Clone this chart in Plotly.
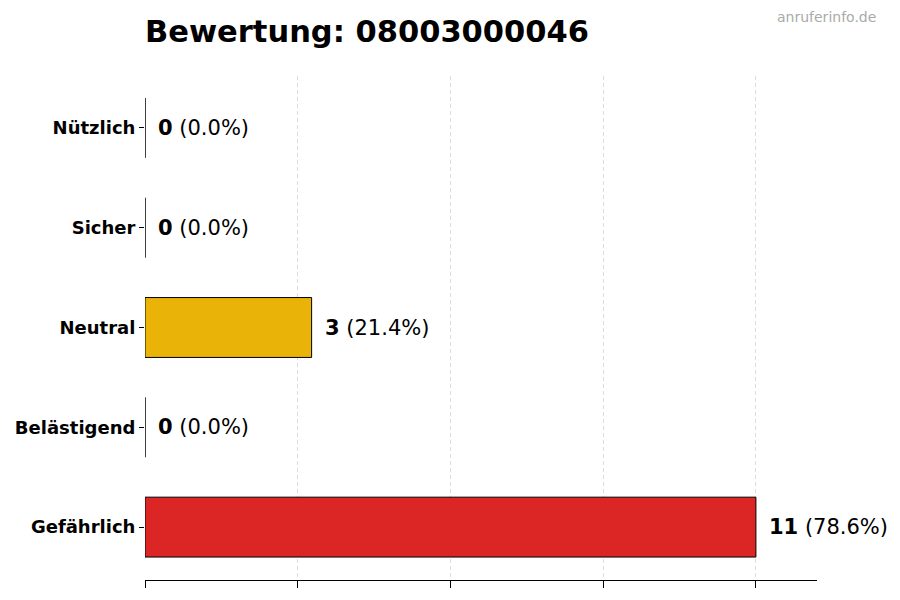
import plotly.graph_objects as go

# data (bottom to top in the picture)
categories = ["Gefährlich", "Belästigend", "Neutral", "Sicher", "Nützlich"]
counts = [11, 0, 3, 0, 0]
bar_colors = ["#DC2626", "#F97316", "#EAB308", "#2563EB", "#16A34A"]
title_text = "Bewertung: 08003000046"
watermark = "anruferinfo.de"

total = sum(counts)
x_max = max(counts) * 1.1
tick_vals = [max(counts) * i / 4 for i in range(5)]

W, H = 900, 600
L, R, T, B = 145, 83, 76, 20

fig = go.Figure()

fig.add_trace(go.Bar(
    x=counts,
    y=categories,
    orientation="h",
    width=0.6,
    marker=dict(color=bar_colors, line=dict(color="black", width=1)),
    hoverinfo="skip",
))

# value labels next to the bars
for cat, n in zip(categories, counts):
    pct = n / total * 100
    fig.add_annotation(
        x=n, y=cat, xref="x", yref="y",
        text=f"<b>{n}</b> ({pct:.1f}%)",
        showarrow=False, xanchor="left", xshift=11,
        font=dict(family="DejaVu Sans", size=21, color="black"),
    )

fig.update_layout(
    width=W, height=H,
    margin=dict(l=L, r=R, t=T, b=B),
    plot_bgcolor="white", paper_bgcolor="white",
    showlegend=False,
    title=dict(
        text=f"<b>{title_text}</b>",
        x=L / W, xanchor="left", y=1 - 31 / H, yanchor="middle",
        font=dict(family="DejaVu Sans", size=30.5, color="black"),
    ),
)

# watermark in the top right corner
fig.add_annotation(
    text=watermark, xref="paper", yref="paper",
    x=(878 - L) / (W - L - R), y=1 + (T - 17) / (H - T - B),
    xanchor="right", yanchor="middle",
    showarrow=False, font=dict(family="DejaVu Sans", size=14, color="#aaaaaa"),
)

fig.update_xaxes(
    range=[0, x_max],
    tickvals=tick_vals, showticklabels=False,
    ticks="outside", ticklen=7, tickcolor="black", tickwidth=1,
    showgrid=True, gridcolor="#dcdcdc", griddash="4px,3px", gridwidth=1,
    showline=True, linecolor="black", linewidth=1,
    zeroline=False, layer="above traces",
)
fig.update_yaxes(
    categoryorder="array", categoryarray=categories,
    range=[-0.53, 4.52],
    ticks="outside", ticklen=5, tickcolor="black",
    ticklabelstandoff=0,
    showline=False, showgrid=False, zeroline=False,
    tickfont=dict(family="DejaVu Sans", size=18, color="black", weight="bold"),
)

fig.write_html("out.html", config={"displayModeBar": False},
               post_script="document.body.style.margin='0';")
